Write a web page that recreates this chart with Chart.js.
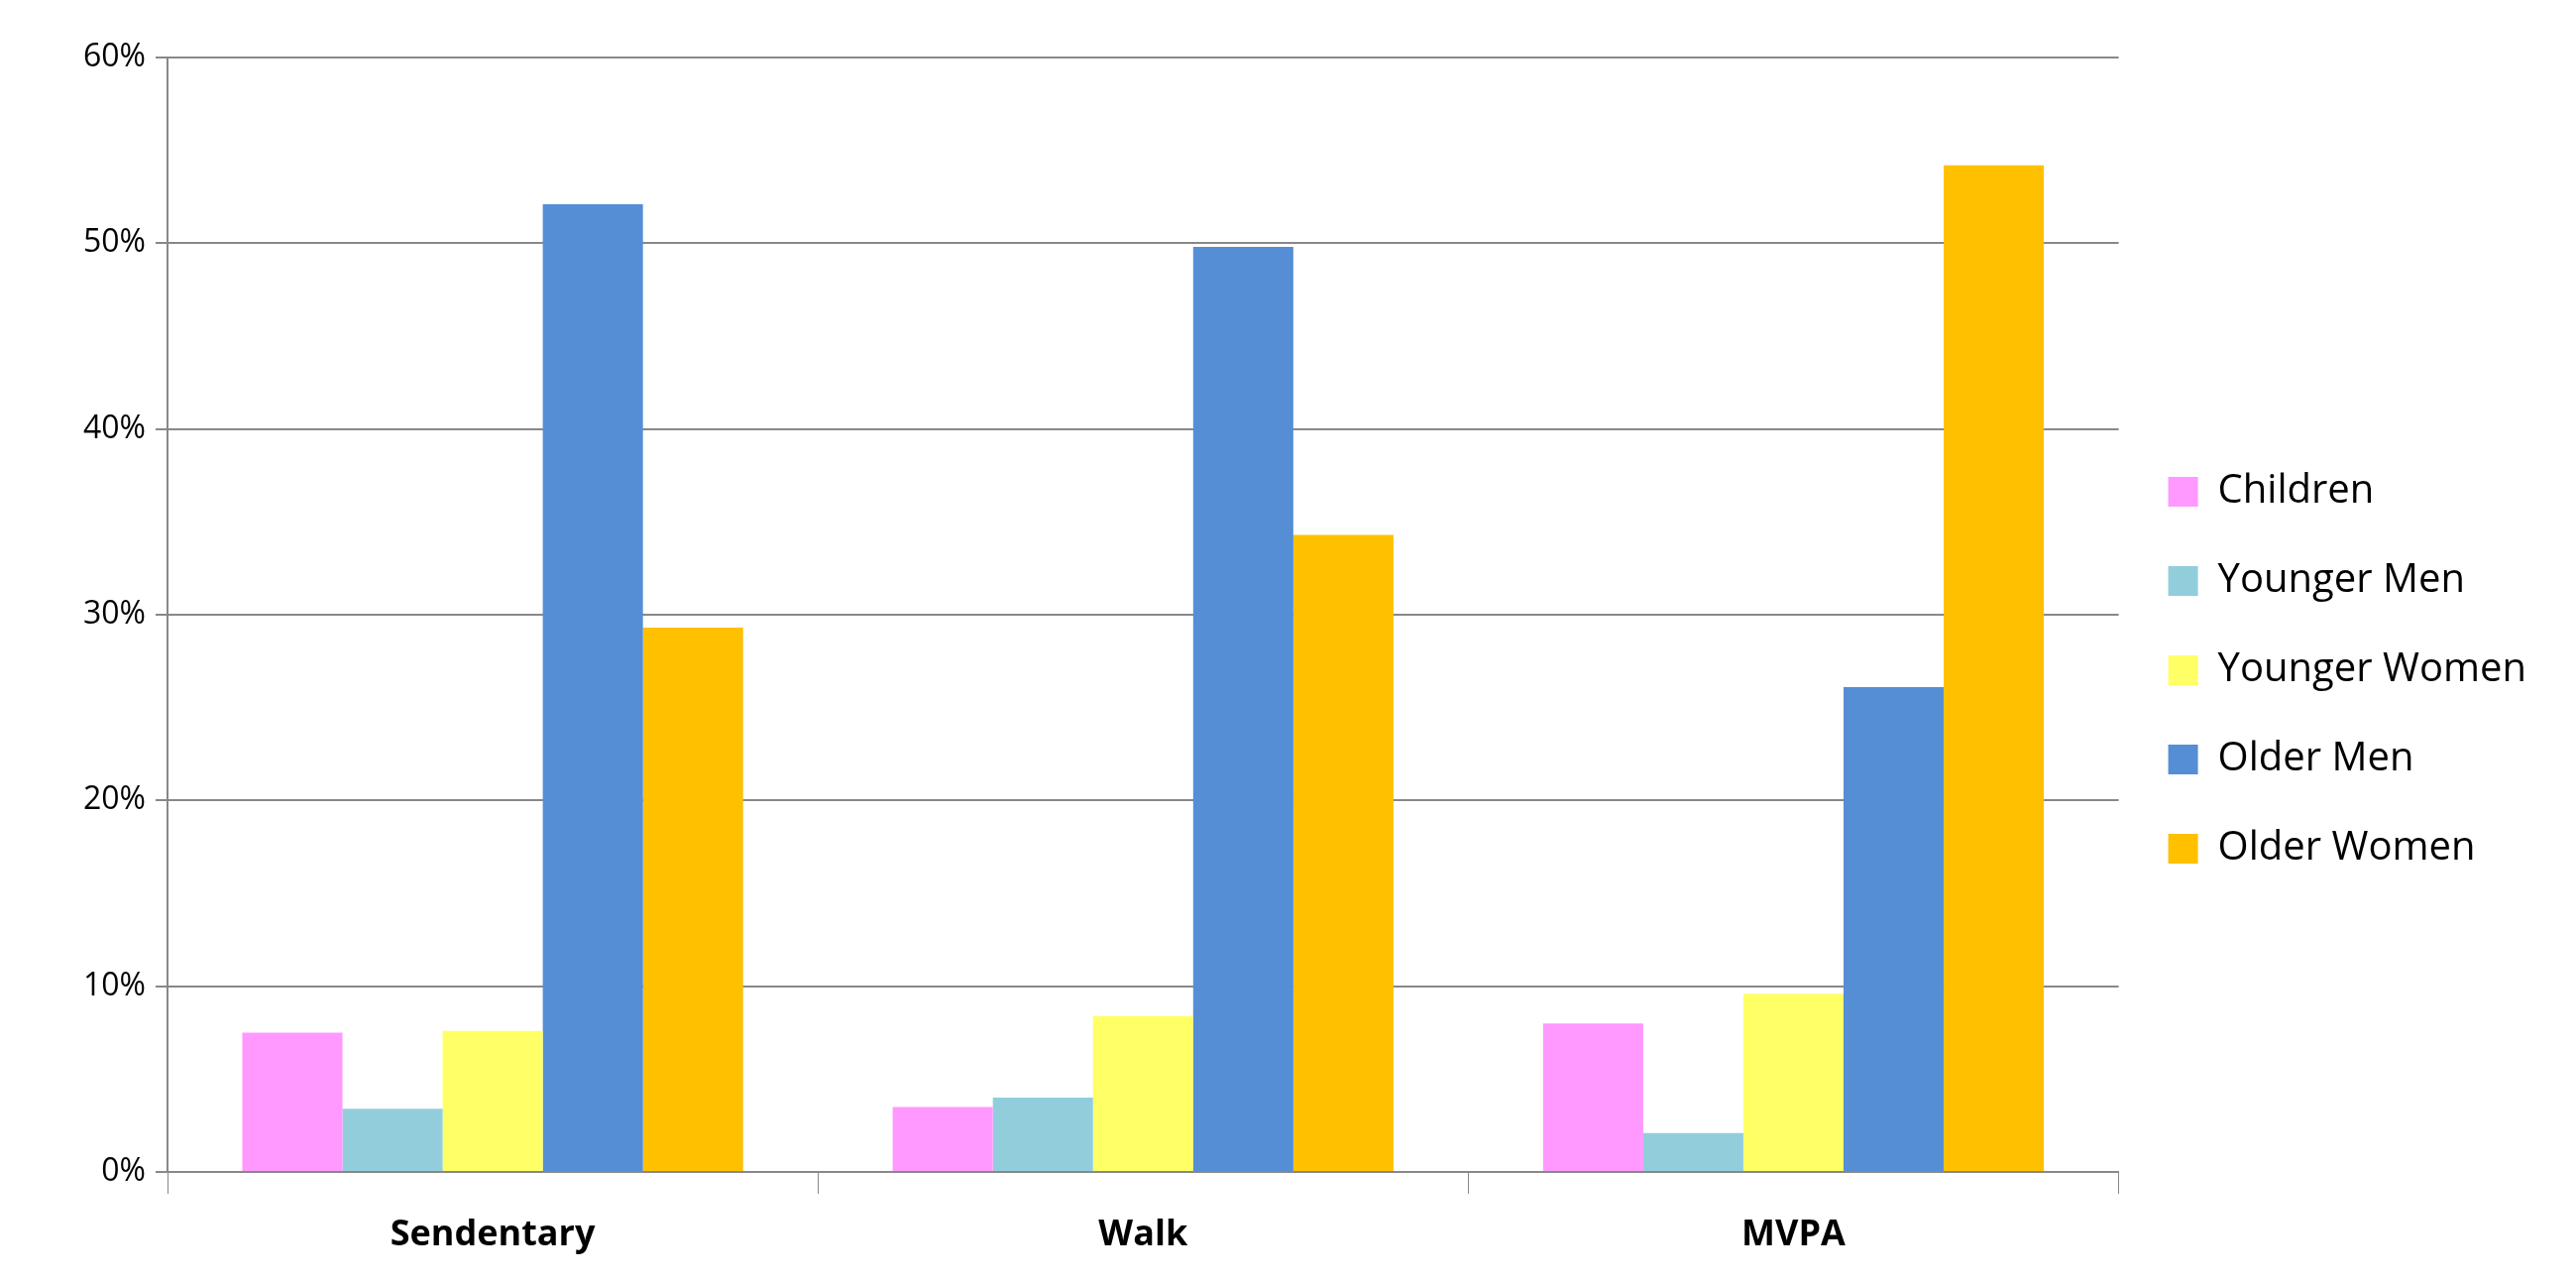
<!DOCTYPE html>
<html>
<head>
<meta charset="utf-8">
<script src="https://cdn.jsdelivr.net/npm/chart.js@4"></script>
<style>
  html, body { margin: 0; padding: 0; background: #fff; }
  #wrap { width: 2599px; height: 1294px; }
</style>
</head>
<body>
<div id="wrap"><canvas id="chart"></canvas></div>
<script>
const categories = ['Sendentary', 'Walk', 'MVPA'];
const seriesNames = ['Children', 'Younger Men', 'Younger Women', 'Older Men', 'Older Women'];
const children = [7.5, 3.5, 8.0];
const youngerMen = [3.4, 4.0, 2.1];
const youngerWomen = [7.6, 8.4, 9.6];
const olderMen = [52.1, 49.8, 26.1];
const olderWomen = [29.3, 34.3, 54.2];
const yTicks = [0, 10, 20, 30, 40, 50, 60];

const colors = ['#ff99ff', '#92cddc', '#ffff66', '#558ed5', '#ffc000'];
const values = [children, youngerMen, youngerWomen, olderMen, olderWomen];

const datasets = seriesNames.map((name, i) => ({
  label: name,
  data: values[i],
  backgroundColor: colors[i],
  borderWidth: 0,
  categoryPercentage: 0.77,
  barPercentage: 1.0,
}));

new Chart(document.getElementById('chart'), {
  type: 'bar',
  data: { labels: categories, datasets: datasets },
  options: {
    responsive: true,
    maintainAspectRatio: false,
    animation: false,
    layout: { padding: { top: 58, right: 40 } },
    plugins: {
      tooltip: { enabled: false },
      legend: {
        position: 'right',
        labels: {
          font: { family: 'Open Sans', size: 40 },
          color: '#000',
          boxWidth: 30,
          boxHeight: 30,
          padding: 50,
        }
      }
    },
    scales: {
      x: {
        grid: { display: true, drawOnChartArea: false, offset: true, color: '#888', tickLength: 22 },
        border: { color: '#888', width: 2 },
        ticks: { font: { family: 'Open Sans', size: 36, weight: 'bold' }, color: '#000', padding: 20 },
        afterFit: (s) => { s.height = 112; }
      },
      y: {
        min: 0, max: 60,
        afterBuildTicks: (s) => { s.ticks = yTicks.map(v => ({ value: v })); },
        grid: { color: '#888', lineWidth: 2, tickLength: 12 },
        border: { color: '#888', width: 2 },
        ticks: {
          font: { family: 'Open Sans', size: 32 },
          color: '#000',
          padding: 10,
          callback: (v) => v + '%'
        },
        afterFit: (s) => { s.width = 169; }
      }
    }
  }
});
</script>
</body>
</html>
